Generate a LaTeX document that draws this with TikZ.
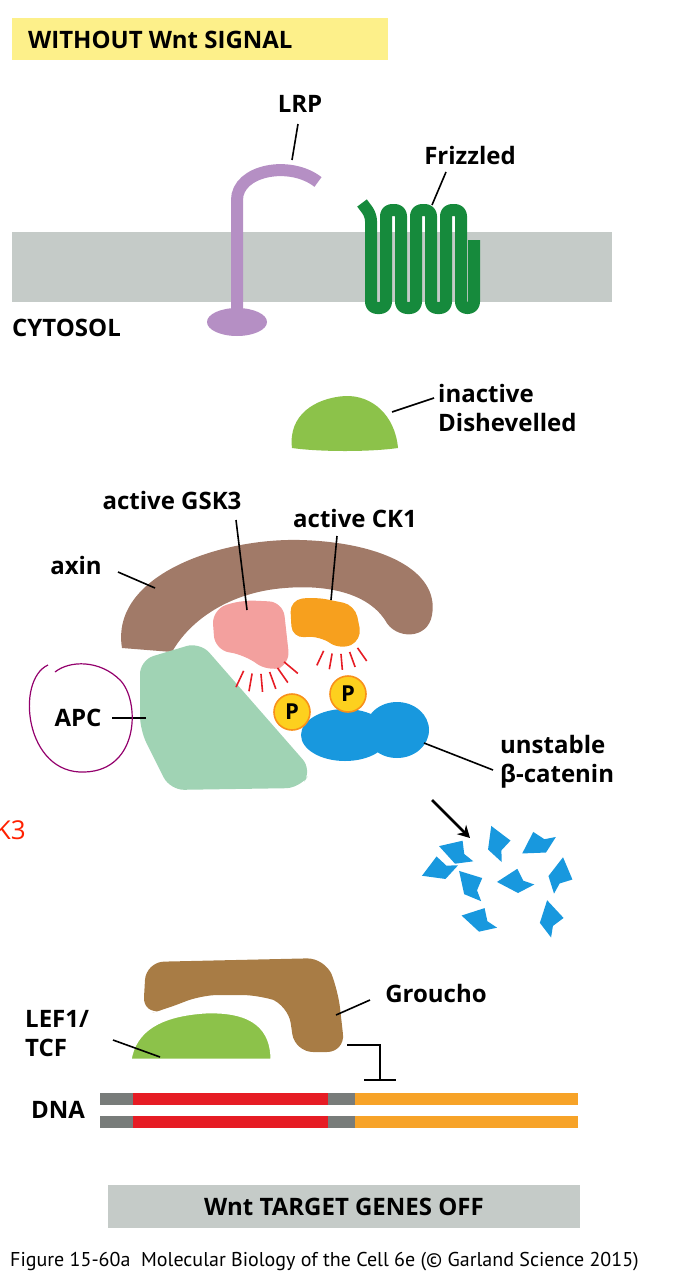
\documentclass[tikz,border=0pt]{standalone}
\usepackage{fontspec}
\setmainfont{Open Sans}
\newfontfamily\capfont{PT Sans}
\usetikzlibrary{arrows.meta}
\definecolor{titleyellow}{RGB}{253,240,138}
\definecolor{membrane}{RGB}{197,203,200}
\definecolor{lrpcol}{RGB}{181,143,196}
\definecolor{frzcol}{RGB}{22,138,60}
\definecolor{dshcol}{RGB}{140,194,74}
\definecolor{axincol}{RGB}{161,122,104}
\definecolor{gskcol}{RGB}{243,160,158}
\definecolor{ckcol}{RGB}{247,160,30}
\definecolor{apccol}{RGB}{160,211,180}
\definecolor{catcol}{RGB}{24,152,222}
\definecolor{pcol}{RGB}{253,208,30}
\definecolor{grocol}{RGB}{168,124,69}
\definecolor{dnared}{RGB}{230,28,36}
\definecolor{dnagray}{RGB}{120,124,122}
\definecolor{dnaorange}{RGB}{247,163,40}
\tikzset{
  lbl/.style={font=\fontsize{24}{29}\selectfont\bfseries, inner sep=0pt, align=left},
  pointer/.style={line width=1.6pt},
  dash fan/.style={draw=dnared, line width=1.6pt},
  phos/.style={circle, fill=pcol, draw=ckcol!90!red, line width=1.6pt, minimum size=36pt, inner sep=0pt, font=\fontsize{22}{22}\selectfont\bfseries}
}
\begin{document}
\begin{tikzpicture}[x=1pt,y=-1pt]
\useasboundingbox (0,0) rectangle (682,1282);

% title
\fill[titleyellow] (12,18) rectangle (388,60);
\node[lbl, anchor=west] (title) at (28,40) {WITHOUT Wnt SIGNAL};

% membrane
\fill[membrane] (12,232) rectangle (612,302);
\node[lbl, anchor=west] (cyto) at (12,328) {CYTOSOL};

% LRP
\fill[lrpcol] (237,322) ellipse (30 and 14);
\draw[lrpcol, line width=12pt] (237,320) -- (237,200) .. controls (237,170) and (290,160) .. (318,182);
\node[lbl] (lrp) at (300,104) {LRP};
\draw[pointer] (292,160) -- (298,124);

% Frizzled
\draw[frzcol, line width=12pt, line join=round, rounded corners=6pt]
  (362,203) -- (371,215) -- (371,308) -- (386,308) -- (386,210) -- (401,210) -- (401,308)
  -- (416,308) -- (416,210) -- (431,210) -- (431,308) -- (446,308) -- (446,210)
  -- (461,210) -- (461,308) -- (474,308) -- (474,240);
\node[lbl] (frz) at (470,155) {Frizzled};
\draw[pointer] (432,205) -- (446,172);

% Dishevelled
\fill[dshcol] (292,448) .. controls (288,415) and (315,398) .. (345,396)
  .. controls (372,395) and (395,415) .. (398,448) .. controls (370,452) and (320,452) .. cycle;
\node[lbl, anchor=north west] (dsh) at (438,384) {inactive\\Dishevelled};
\draw[pointer] (392,412) -- (434,398);

% axin
\fill[axincol] (122,648) .. controls (110,575) and (220,538) .. (300,540)
  .. controls (380,542) and (440,570) .. (432,615) .. controls (428,640) and (395,640) .. (385,620)
  .. controls (365,590) and (320,585) .. (285,588) .. controls (230,592) and (190,620) .. (172,652) -- cycle;
\node[lbl] (axin) at (76,565) {axin};
\draw[pointer] (118,572) -- (155,588);

% APC
\fill[apccol, rounded corners=14pt] (140,660) -- (200,642) -- (312,770) -- (300,788) -- (170,790) -- (140,730) -- cycle;
\node[lbl] (apc) at (78,718) {APC};
\draw[pointer] (112,718) -- (146,718);
\draw[violet!70!purple, line width=1.2pt] (48,665) .. controls (15,680) and (25,775) .. (85,772)
  .. controls (140,770) and (140,700) .. (120,680) .. controls (100,660) and (70,660) .. (55,672);

% GSK3 and CK1
\fill[gskcol, rounded corners=14pt] (212,610) -- (240,600) -- (283,602) -- (290,665) -- (268,672) -- (245,655) -- (215,650) -- cycle;
\fill[ckcol, rounded corners=12pt] (290,600) -- (315,597) -- (355,605) -- (362,640) -- (340,650) -- (320,636) -- (292,638) -- cycle;
\foreach \a in {100,115,...,175} \draw[dash fan] (258,640) ++(\a-60:34) -- ++(\a-60:18);
\foreach \a in {55,70,...,125} \draw[dash fan] (338,620) ++(\a:34) -- ++(\a:16);
\node[lbl] (gsk) at (172,500) {active GSK3};
\draw[pointer] (236,520) -- (247,610);
\node[lbl] (ck) at (355,518) {active CK1};
\draw[pointer] (337,536) -- (331,600);

% beta-catenin
\fill[catcol] (345,735) ellipse (44 and 26) (397,730) ellipse (32 and 28);
\node[phos] (p1) at (292,712) {P};
\node[phos] (p2) at (348,694) {P};
\node[lbl, anchor=north west] (cat) at (500,735) {unstable\\β-catenin};
\draw[pointer] (424,743) -- (493,770);
\draw[line width=2.8pt, -{Stealth[length=12pt,width=13pt]}] (432,800) -- (470,838);

% fragments
\foreach \x/\y/\r in {455/852/20, 497/842/-30, 537/845/70, 470/884/-10, 514/882/40, 560/874/-60, 478/920/25, 550/917/-40, 438/870/60}
  \fill[catcol, rotate around={\r:(\x,\y)}] (\x-13,\y-11) -- (\x+11,\y-8) -- (\x+8,\y+5) -- (\x+14,\y+15) -- (\x-4,\y+11) -- cycle;

% red cut-off text
\node[lbl, text=red!75!orange, anchor=east, font=\fontsize{26}{26}\selectfont] (gskcut) at (26,830) {GSK3};

% Groucho and LEF1/TCF
\fill[grocol, rounded corners=18pt] (143,1015) -- (146,962) -- (325,958) -- (338,990) -- (345,1052) -- (295,1052) -- (288,1005) -- (260,995) -- (200,995) -- (170,1008) -- cycle;
\fill[dshcol, draw=white, line width=3pt] (130,1060) .. controls (135,1030) and (160,1015) .. (205,1012)
  .. controls (255,1010) and (272,1030) .. (272,1060) -- cycle;
\node[lbl] (gro) at (436,993) {Groucho};
\draw[pointer] (336,1015) -- (370,1000);
\node[lbl, anchor=north west] (lef) at (25,1010) {LEF1/\\TCF};
\draw[pointer] (113,1040) -- (160,1057);
\draw[line width=2.4pt] (347,1045) -- (380,1045) -- (380,1080);
\draw[line width=2.4pt] (364,1080) -- (396,1080);

% DNA
\node[lbl] (dna) at (58,1110) {DNA};
\foreach \y in {1093,1116} {
  \fill[dnagray] (100,\y) rectangle (133,\y+12);
  \fill[dnared] (133,\y) rectangle (328,\y+12);
  \fill[dnagray] (328,\y) rectangle (355,\y+12);
  \fill[dnaorange] (355,\y) rectangle (578,\y+12);
}

% bottom banner
\fill[membrane] (108,1185) rectangle (580,1228);
\node[lbl] (off) at (344,1207) {Wnt TARGET GENES OFF};
\node[anchor=west, inner sep=0pt, font=\capfont\fontsize{20}{22}\selectfont] (cap) at (10,1262) {Figure 15-60a\ \ Molecular Biology of the Cell 6e (\copyright\ Garland Science 2015)};
\end{tikzpicture}
\end{document}
